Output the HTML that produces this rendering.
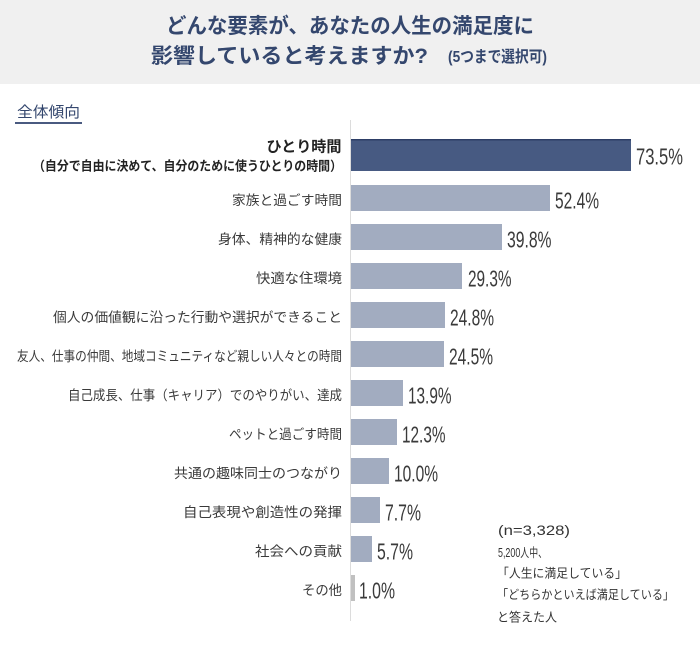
<!DOCTYPE html>
<html lang="ja">
<head>
<meta charset="utf-8">
<style>
  html, body { margin: 0; padding: 0; background: #ffffff; }
  body { width: 700px; height: 648px; overflow: hidden; }
  svg { display: block; }
  .jp { font-family: "Liberation Sans", "Noto Sans CJK JP", sans-serif; }
  .num { font-family: "Liberation Sans", "DejaVu Sans", sans-serif; }
</style>
</head>
<body>
<svg width="700" height="648" viewBox="0 0 700 648" xmlns="http://www.w3.org/2000/svg">
  <!-- header band -->
  <rect x="0" y="0" width="700" height="84" fill="#f0f0f0"/>
  <text class="jp" x="166" y="33" font-size="21" font-weight="bold" fill="#34476e" textLength="368" lengthAdjust="spacingAndGlyphs">どんな要素が、あなたの人生の満足度に</text>
  <text class="jp" x="151" y="63" font-size="21" font-weight="bold" fill="#34476e" textLength="277" lengthAdjust="spacingAndGlyphs">影響していると考えますか?</text>
  <text class="jp" x="448" y="62" font-size="16" font-weight="bold" fill="#34476e" textLength="99" lengthAdjust="spacingAndGlyphs">(5つまで選択可)</text>

  <!-- section label -->
  <text class="jp" x="17" y="117" font-size="15" fill="#34476e" textLength="63" lengthAdjust="spacingAndGlyphs">全体傾向</text>
  <rect x="15" y="122" width="67" height="2" fill="#4a5a80"/>

  <!-- axis line -->
  <rect x="350" y="120" width="1" height="501" fill="#dcdcdc"/>

  <!-- bars -->
  <rect x="351" y="139" width="280" height="32" fill="#475a82"/>
  <rect x="351" y="139" width="280" height="1.5" fill="#2d3e66"/>
  <g fill="#a2acc0">
    <rect x="351" y="185" width="199" height="26"/>
    <rect x="351" y="224" width="151" height="26"/>
    <rect x="351" y="263" width="111" height="26"/>
    <rect x="351" y="302" width="94" height="26"/>
    <rect x="351" y="341" width="93" height="26"/>
    <rect x="351" y="380" width="52" height="26"/>
    <rect x="351" y="419" width="46" height="26"/>
    <rect x="351" y="458" width="38" height="26"/>
    <rect x="351" y="497" width="29" height="26"/>
    <rect x="351" y="536" width="21" height="26"/>
  </g>
  <rect x="351" y="575" width="4" height="26" fill="#c0c0c0"/>

  <!-- category labels -->
  <text class="jp" x="266.5" y="151.5" font-size="15" font-weight="bold" fill="#222" textLength="75" lengthAdjust="spacingAndGlyphs">ひとり時間</text>
  <text class="jp" x="33" y="170.5" font-size="13" font-weight="bold" fill="#222" textLength="309" lengthAdjust="spacingAndGlyphs">（自分で自由に決めて、自分のために使うひとりの時間）</text>
  <g class="jp" font-size="13.5" fill="#3a3a3a">
    <text x="232" y="205" textLength="110" lengthAdjust="spacingAndGlyphs">家族と過ごす時間</text>
    <text x="218" y="244" textLength="124" lengthAdjust="spacingAndGlyphs">身体、精神的な健康</text>
    <text x="256" y="283" textLength="86" lengthAdjust="spacingAndGlyphs">快適な住環境</text>
    <text x="53" y="322" textLength="289" lengthAdjust="spacingAndGlyphs">個人の価値観に沿った行動や選択ができること</text>
    <text x="17" y="361" textLength="325" lengthAdjust="spacingAndGlyphs">友人、仕事の仲間、地域コミュニティなど親しい人々との時間</text>
    <text x="68" y="400" textLength="274" lengthAdjust="spacingAndGlyphs">自己成長、仕事（キャリア）でのやりがい、達成</text>
    <text x="229" y="439" textLength="113" lengthAdjust="spacingAndGlyphs">ペットと過ごす時間</text>
    <text x="174" y="478" textLength="168" lengthAdjust="spacingAndGlyphs">共通の趣味同士のつながり</text>
    <text x="183" y="517" textLength="159" lengthAdjust="spacingAndGlyphs">自己表現や創造性の発揮</text>
    <text x="255" y="556" textLength="87" lengthAdjust="spacingAndGlyphs">社会への貢献</text>
    <text x="302" y="595" textLength="40" lengthAdjust="spacingAndGlyphs">その他</text>
  </g>

  <!-- values -->
  <g class="num" font-size="23.5" fill="#3a3a3a">
    <text x="636" y="164.5" textLength="47" lengthAdjust="spacingAndGlyphs">73.5%</text>
    <text x="555" y="208.5" textLength="44" lengthAdjust="spacingAndGlyphs">52.4%</text>
    <text x="507" y="247.5" textLength="44.5" lengthAdjust="spacingAndGlyphs">39.8%</text>
    <text x="468" y="286.5" textLength="43.5" lengthAdjust="spacingAndGlyphs">29.3%</text>
    <text x="450" y="325.5" textLength="44" lengthAdjust="spacingAndGlyphs">24.8%</text>
    <text x="449" y="364.5" textLength="44" lengthAdjust="spacingAndGlyphs">24.5%</text>
    <text x="408" y="403.5" textLength="43.5" lengthAdjust="spacingAndGlyphs">13.9%</text>
    <text x="402" y="442.5" textLength="43.5" lengthAdjust="spacingAndGlyphs">12.3%</text>
    <text x="394" y="481.5" textLength="44" lengthAdjust="spacingAndGlyphs">10.0%</text>
    <text x="385" y="520.5" textLength="36" lengthAdjust="spacingAndGlyphs">7.7%</text>
    <text x="377" y="559.5" textLength="36" lengthAdjust="spacingAndGlyphs">5.7%</text>
    <text x="359" y="598.5" textLength="36" lengthAdjust="spacingAndGlyphs">1.0%</text>
  </g>

  <!-- note -->
  <g class="jp" fill="#333">
    <text x="498" y="535" font-size="14" textLength="72" lengthAdjust="spacingAndGlyphs">(n=3,328)</text>
    <text x="498" y="557" font-size="12.5" textLength="49" lengthAdjust="spacingAndGlyphs">5,200人中、</text>
    <text x="497" y="577.5" font-size="12.5" textLength="130" lengthAdjust="spacingAndGlyphs">「人生に満足している」</text>
    <text x="497" y="599" font-size="12.5" textLength="177" lengthAdjust="spacingAndGlyphs">「どちらかといえば満足している」</text>
    <text x="497" y="621.5" font-size="12.5" textLength="60" lengthAdjust="spacingAndGlyphs">と答えた人</text>
  </g>
</svg>
</body>
</html>
